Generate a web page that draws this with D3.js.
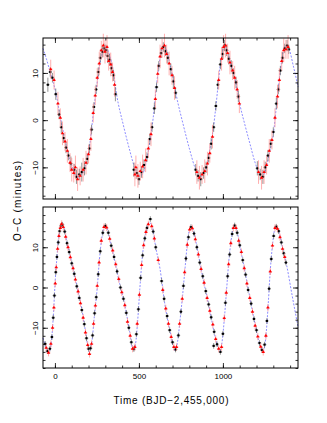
<!DOCTYPE html>
<html lang="en">
<head>
<meta charset="UTF-8">
<title>O-C timing</title>
<script src="https://cdnjs.cloudflare.com/ajax/libs/d3/7.8.5/d3.min.js"></script>
<style>
  body { margin: 0; background: #fff; }
  svg { display: block; font-family: "Liberation Sans", Arial, sans-serif; }
  .axis path { stroke: none; }
  .axis line { stroke: #000; stroke-width: 0.8px; }
  .axis text { font-size: 8px; fill: #000; }
</style>
</head>
<body>
<svg width="327" height="423"></svg>
<script>
// ---- top panel: model curve (days, minutes)
const topModelT = [-71, -50, -30, -10, 10, 30, 50, 70, 90, 110, 139, 169, 192, 208, 224, 248, 268, 285, 298, 315, 330, 347, 367, 407, 446, 476, 500, 520, 546, 565, 585, 605, 625, 645, 665, 684, 704, 724, 764, 804, 833, 863, 890, 903, 923, 942, 960, 982, 1002, 1015, 1030, 1042, 1071, 1101, 1131, 1161, 1190, 1220, 1240, 1260, 1280, 1300, 1320, 1340, 1360, 1378, 1395, 1419, 1448];
const topModelM = [15.2, 12.9, 10.4, 8.0, 5.0, 1.0, -2.5, -5.8, -8.5, -10.5, -12.0, -11.0, -8.2, -5.0, 0.0, 7.0, 12.0, 14.8, 15.5, 14.8, 13.2, 10.5, 5.5, -1.0, -6.5, -10.2, -11.8, -11.5, -8.4, -4.5, 0.5, 7.5, 13.0, 15.8, 14.8, 12.0, 8.7, 5.0, -1.0, -6.5, -10.0, -12.0, -11.0, -9.8, -6.0, -2.0, 3.5, 11.0, 14.8, 15.4, 14.6, 12.5, 9.0, 3.3, -1.0, -5.0, -8.8, -11.4, -11.6, -9.6, -6.5, -3.0, 3.5, 10.0, 14.5, 15.8, 15.0, 11.5, 7.0];

// top panel: black points
const topBlackT = [-42, -28, -15, 5, 25, 38, 52, 66, 80, 95, 115, 128, 145, 160, 176, 192, 205, 218, 232, 245, 258, 270, 282, 292, 303, 314, 325, 336, 348, 360,
  470, 488, 500, 515, 530, 548, 565, 578, 592, 605, 618, 632, 645, 658, 672, 690, 705, 718,
  838, 852, 868, 885, 900, 915, 930, 945, 958, 970, 985, 998, 1010, 1022, 1035, 1050, 1062, 1078, 1092,
  1205, 1222, 1238, 1252, 1268, 1285, 1300, 1318, 1330, 1342, 1355, 1368, 1382, 1392];
const topBlackM = [7.5, 10.2, 9.0, 5.5, 1.2, -1.5, -3.8, -5.8, -7.5, -9.2, -10.5, -12.0, -11.5, -11.0, -10.2, -8.2, -6.0, -2.0, 2.8, 6.5, 10.2, 13.2, 14.5, 15.2, 14.8, 13.6, 12.8, 11.0, 9.5, 5.5,
  -10.5, -11.2, -12.5, -11.0, -9.5, -7.8, -4.0, -1.5, 2.5, 7.0, 11.5, 14.2, 15.5, 14.6, 13.2, 10.8, 8.2, 5.8,
  -10.5, -11.8, -12.5, -11.2, -10.0, -8.0, -5.0, -1.5, 3.0, 7.5, 11.8, 14.0, 15.8, 14.8, 13.0, 11.5, 10.0, 8.0, 5.0,
  -10.2, -11.5, -12.0, -10.0, -7.5, -5.0, -2.5, 3.5, 6.5, 10.5, 13.2, 15.2, 15.8, 15.0];
const topBlackE = [1.5, 1.0, 1.0, 1.2, 1.0, 1.2, 1.0, 1.2, 1.0, 1.5, 1.2, 1.5, 1.2, 2.0, 1.5, 1.2, 1.0, 1.0, 1.0, 1.0, 1.0, 1.0, 1.2, 1.0, 1.2, 1.5, 1.2, 1.2, 1.2, 1.5,
  1.5, 1.2, 1.2, 1.2, 1.2, 1.0, 1.2, 1.0, 1.2, 1.0, 1.0, 1.0, 1.0, 1.0, 1.2, 1.2, 1.5, 1.2,
  1.2, 1.2, 1.5, 1.2, 1.2, 1.0, 1.2, 1.0, 1.0, 1.0, 1.0, 1.2, 1.2, 1.2, 1.2, 1.2, 1.0, 1.2, 1.2,
  1.5, 1.2, 1.5, 1.2, 1.2, 1.0, 1.0, 1.2, 1.0, 1.0, 1.2, 1.0, 1.2, 1.0];

// top panel: red points
const topRedT = [-25, -5, 18, 32, 45, 60, 74, 90, 100, 112, 122, 135, 150, 168, 185, 200, 214, 228, 240, 252, 264, 276, 288, 298, 310, 320, 332, 343, 355,
  476, 482, 494, 508, 522, 540, 556, 572, 598, 612, 626, 638, 652, 665, 680, 697, 712,
  845, 860, 876, 892, 908, 922, 938, 975, 992, 1004, 1016, 1028, 1042, 1058, 1070, 1085, 1098,
  1212, 1230, 1245, 1260, 1276, 1292, 1310, 1325, 1336, 1350, 1362, 1375, 1388];
const topRedM = [10.8, 8.5, 3.5, 0.5, -2.8, -4.5, -6.5, -9.0, -10.5, -11.2, -10.0, -12.5, -11.8, -10.5, -9.0, -7.2, -4.0, 1.5, 5.2, 9.0, 12.0, 14.8, 15.8, 14.5, 15.5, 12.5, 11.8, 10.2, 7.5,
  -11.5, -10.0, -11.8, -10.8, -9.8, -8.5, -6.0, -3.0, 4.5, 9.8, 13.5, 15.2, 15.8, 14.0, 12.0, 9.5, 6.8,
  -11.0, -12.2, -11.5, -10.8, -9.2, -7.0, -3.5, 8.5, 13.0, 15.5, 15.8, 14.2, 12.2, 10.5, 9.0, 6.5, 3.5,
  -11.0, -12.2, -11.0, -9.5, -6.5, -4.2, 0.5, 5.0, 8.5, 12.5, 14.8, 15.0, 15.5];
const topRedE = [2.0, 2.0, 2.5, 2.0, 2.5, 2.0, 2.5, 2.0, 2.5, 2.0, 2.5, 2.5, 2.0, 2.5, 2.5, 2.0, 2.5, 2.0, 2.0, 2.0, 2.5, 2.0, 2.5, 2.5, 2.5, 2.0, 2.5, 2.0, 2.5,
  2.5, 2.5, 2.5, 2.0, 2.5, 2.5, 2.0, 2.5, 2.0, 2.0, 2.5, 2.0, 2.5, 2.0, 2.5, 2.0, 2.5,
  2.5, 2.5, 2.0, 2.5, 2.5, 2.0, 2.5, 2.0, 2.5, 2.5, 2.5, 2.0, 2.5, 2.0, 2.5, 2.0, 2.0,
  2.5, 2.5, 2.5, 2.0, 2.5, 2.0, 2.0, 2.5, 2.5, 2.0, 2.5, 2.0, 2.5];

// ---- bottom panel: model curve
const botModelT = [-71, -50, -34, -20, -8, 0, 10, 20, 30, 40, 55, 70, 99, 129, 159, 185, 204, 220, 235, 252, 265, 280, 298, 312, 330, 357, 385, 417, 445, 466, 480, 493, 506, 520, 540, 562, 580, 600, 625, 655, 685, 714, 730, 745, 760, 775, 790, 807, 825, 850, 873, 923, 955, 982, 995, 1010, 1022, 1035, 1050, 1065, 1080, 1105, 1131, 1180, 1215, 1240, 1255, 1270, 1280, 1295, 1315, 1335, 1360, 1379, 1410, 1448];
const botModelM = [-12.5, -15.2, -16.0, -13.0, -6.0, 0.5, 6.5, 11.5, 14.5, 15.5, 14.5, 11.5, 6.4, 0.7, -5.1, -11.7, -16.0, -13.5, -7.0, 0.0, 7.0, 12.5, 15.5, 14.5, 11.5, 6.4, 1.0, -4.5, -11.0, -15.6, -14.0, -8.0, 0.0, 7.5, 13.5, 16.2, 15.0, 10.0, 4.8, -4.3, -10.9, -15.6, -13.5, -8.0, -2.0, 5.0, 11.5, 15.2, 14.0, 9.0, 4.0, -5.9, -12.5, -15.8, -13.5, -7.0, -0.5, 6.5, 12.0, 15.3, 14.5, 9.5, 4.0, -6.7, -13.5, -15.8, -12.5, -4.0, 3.0, 10.5, 15.3, 13.5, 9.0, 5.6, -1.5, -10.0];

// bottom panel: black points
const botBlackT = [-58, -45, -30, -18, -10, -3, 5, 12, 20, 28, 36, 45, 58, 72, 85, 100, 115, 130, 145, 160, 175, 188, 200, 212, 224, 236, 246, 258, 270, 285, 300, 318, 335, 352, 370, 390, 408, 425, 440, 455, 470, 485, 497, 510, 522, 535, 548, 568, 585, 600, 635, 650, 668, 683, 700, 718, 735, 750, 765, 780, 795, 810, 828, 845, 862, 880, 898, 915, 930, 945, 948, 965, 985, 1000, 1015, 1028, 1040, 1055, 1070, 1085, 1100, 1118, 1135, 1150, 1168, 1185, 1200, 1218, 1232, 1248, 1262, 1275, 1288, 1302, 1318, 1332, 1348, 1362, 1375];
const botBlackM = [-14.0, -15.8, -15.2, -12.3, -7.5, -2.0, 3.8, 7.6, 11.2, 14.0, 15.3, 15.6, 13.9, 11.0, 8.8, 6.0, 3.4, 0.3, -2.6, -5.6, -9.1, -12.6, -15.2, -15.1, -11.9, -6.4, -2.4, 3.3, 9.0, 13.6, 15.3, 13.6, 10.4, 7.6, 4.0, 0.0, -2.8, -6.3, -10.0, -13.6, -15.3, -11.6, -5.4, 2.4, 8.0, 12.2, 14.8, 17.0, 13.9, 10.0, 1.6, -2.8, -7.1, -10.6, -13.6, -15.4, -11.9, -6.0, 0.4, 7.2, 12.5, 15.0, 13.4, 10.0, 6.2, 2.8, -0.9, -4.2, -7.4, -14.5, -11.0, -14.1, -16.0, -11.5, -3.8, 2.8, 8.2, 13.3, 15.4, 13.6, 10.5, 6.8, 3.2, -0.6, -4.0, -7.8, -10.6, -13.8, -15.5, -14.2, -8.3, -0.3, 7.1, 12.8, 15.1, 14.0, 11.2, 8.5, 6.2];
const botBlackE = 0.7;

// bottom panel: red points
const botRedT = [-52, -38, -24, -14, -6, 2, 8, 16, 24, 32, 40, 50, 64, 78, 92, 108, 122, 138, 152, 168, 182, 195, 206, 218, 230, 241, 252, 263, 276, 292, 308, 326, 344, 362, 380, 398, 416, 432, 448, 462, 476, 490, 503, 516, 528, 542, 556, 576, 592, 615, 642, 660, 676, 692, 708, 724, 742, 758, 772, 788, 802, 818, 836, 854, 870, 888, 906, 922, 940, 957, 975, 992, 1008, 1020, 1034, 1047, 1062, 1078, 1094, 1110, 1127, 1143, 1160, 1176, 1192, 1208, 1225, 1240, 1256, 1268, 1282, 1295, 1310, 1325, 1340, 1355, 1368];
const botRedM = [-15.0, -16.2, -14.0, -10.0, -5.0, 1.0, 5.0, 9.6, 12.8, 14.8, 15.8, 15.0, 12.6, 10.0, 7.5, 4.8, 2.0, -1.0, -3.9, -7.5, -11.2, -14.3, -16.5, -14.0, -9.0, -4.5, 0.4, 6.2, 11.6, 15.0, 14.9, 12.1, 9.2, 5.8, 2.1, -1.2, -4.4, -8.5, -12.0, -15.2, -14.8, -9.0, -1.8, 5.6, 10.5, 13.8, 15.7, 15.2, 12.2, 6.8, -0.6, -5.2, -9.0, -12.3, -14.8, -14.8, -9.0, -2.8, 3.8, 10.6, 14.4, 14.7, 12.0, 8.2, 4.6, 1.2, -2.6, -5.8, -9.2, -12.8, -15.2, -14.8, -7.6, -1.3, 5.8, 11.0, 14.8, 14.8, 11.6, 8.8, 4.8, 1.0, -2.6, -6.0, -9.5, -12.2, -14.7, -16.0, -12.0, -5.0, 4.0, 10.4, 14.8, 14.6, 12.5, 9.6, 7.6];
const botRedE = 0.9;

const xDomain = [-71, 1447];
const xMajor = [0, 500, 1000];
const xMinor = d3.range(0, 1401, 100);
const topYDomain = [-16.7, 17.4];
const botYDomain = [-20, 20];
const yMajor = [-10, 0, 10];

const svg = d3.select("svg");
const left = 43, right = 298;
const x = d3.scaleLinear().domain(xDomain).range([left, right]);

function drawPanel(top, bottom, yDom, model, black, red, showX) {
    const y = d3.scaleLinear().domain(yDom).range([bottom, top]);
    const g = svg.append("g");
    const yMinorVals = d3.range(Math.ceil(yDom[0] / 2) * 2, yDom[1], 2);

    // model curve
    const line = d3.line().x(d => x(d[0])).y(d => y(d[1])).curve(d3.curveMonotoneX);
    g.append("path")
        .datum(d3.zip(model[0], model[1]))
        .attr("d", line)
        .attr("fill", "none")
        .attr("stroke", "#5a5aff")
        .attr("stroke-width", 0.7)
        .attr("stroke-dasharray", "2,1.5");

    function points(set, barColor, color, kind) {
        const pts = set[0].map((t, i) => ({ t: t, m: set[1][i], e: Array.isArray(set[2]) ? set[2][i] : set[2] }));
        const pg = g.append("g");
        pg.selectAll(".eb").data(pts).enter().append("line")
            .attr("x1", d => x(d.t)).attr("x2", d => x(d.t))
            .attr("y1", d => y(d.m - d.e)).attr("y2", d => y(d.m + d.e))
            .attr("stroke", barColor).attr("stroke-width", 0.7);
        pg.selectAll(".hb").data(pts).enter().append("line")
            .attr("x1", d => x(d.t) - 1.8).attr("x2", d => x(d.t) + 1.8)
            .attr("y1", d => y(d.m)).attr("y2", d => y(d.m))
            .attr("stroke", barColor).attr("stroke-width", 0.7);
        const sym = d3.symbol().type(kind === "tri" ? d3.symbolTriangle : d3.symbolSquare).size(kind === "tri" ? 5 : 4.5);
        pg.selectAll(".pt").data(pts).enter().append("path")
            .attr("transform", d => `translate(${x(d.t)},${y(d.m)})`)
            .attr("d", sym)
            .attr("fill", color);
    }
    points(black, "#666", "#000", "sq");
    points(red, "#ff8c8c", "#ff0000", "tri");

    // axes, ticks inward on every side
    const addAxis = (axis, tr, labels) => {
        const a = g.append("g").attr("class", "axis").attr("transform", tr).call(axis);
        if (!labels) a.selectAll("text").remove();
        return a;
    };
    const fmt = d3.format("d");
    addAxis(d3.axisBottom(x).tickValues(xMinor).tickSize(-2.5), `translate(0,${bottom})`, false);
    addAxis(d3.axisTop(x).tickValues(xMinor).tickSize(-2.5), `translate(0,${top})`, false);
    addAxis(d3.axisBottom(x).tickValues(xMajor).tickSize(-5).tickPadding(5).tickFormat(fmt), `translate(0,${bottom})`, showX);
    addAxis(d3.axisTop(x).tickValues(xMajor).tickSize(-5), `translate(0,${top})`, false);

    addAxis(d3.axisLeft(y).tickValues(yMinorVals).tickSize(-2.5), `translate(${left},0)`, false);
    addAxis(d3.axisRight(y).tickValues(yMinorVals).tickSize(-2.5), `translate(${right},0)`, false);
    const yl = addAxis(d3.axisLeft(y).tickValues(yMajor).tickSize(-5).tickFormat(fmt), `translate(${left},0)`, true);
    addAxis(d3.axisRight(y).tickValues(yMajor).tickSize(-5), `translate(${right},0)`, false);
    yl.selectAll("text")
        .attr("x", 0).attr("dy", 0)
        .attr("text-anchor", "middle")
        .attr("transform", "translate(-5,0) rotate(-90)");

    // frame
    g.append("rect")
        .attr("x", left).attr("y", top)
        .attr("width", right - left).attr("height", bottom - top)
        .attr("fill", "none").attr("stroke", "#000").attr("stroke-width", 1);
}

drawPanel(38, 199, topYDomain, [topModelT, topModelM],
    [topBlackT, topBlackM, topBlackE], [topRedT, topRedM, topRedE], false);
drawPanel(207, 368, botYDomain, [botModelT, botModelM],
    [botBlackT, botBlackM, botBlackE], [botRedT, botRedM, botRedE], true);

svg.append("text")
    .attr("transform", "translate(21,201) rotate(-90)")
    .attr("text-anchor", "middle")
    .attr("font-size", 10)
    .attr("textLength", 80)
    .attr("lengthAdjust", "spacing")
    .text("O\u2212C (minutes)");

svg.append("text")
    .attr("x", 171).attr("y", 404)
    .attr("text-anchor", "middle")
    .attr("font-size", 10)
    .attr("textLength", 115)
    .attr("lengthAdjust", "spacing")
    .text("Time (BJD\u22122,455,000)");
</script>
</body>
</html>
